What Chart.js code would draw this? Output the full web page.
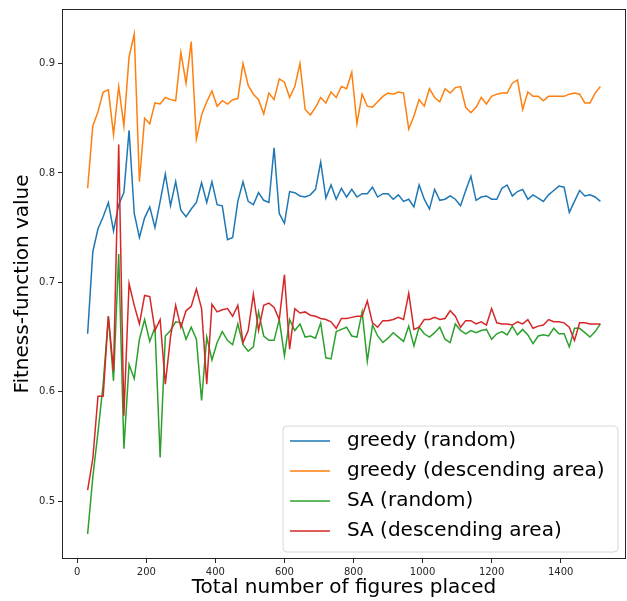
<!DOCTYPE html>
<html>
<head>
<meta charset="utf-8">
<script src="https://cdn.jsdelivr.net/npm/chart.js@4.4.1/dist/chart.umd.min.js"></script>
<style>
  html, body { margin: 0; padding: 0; background: #fff; }
  #wrap { width: 627px; height: 601px; }
</style>
</head>
<body>
<div id="wrap"><canvas id="chart" width="627" height="601"></canvas></div>
<script>
// figures placed (x)
const figuresPlaced = [
  30, 45, 60, 75, 90, 105, 120, 135, 150, 165,
  180, 195, 210, 225, 240, 255, 270, 285, 300, 315,
  330, 345, 360, 375, 390, 405, 420, 435, 450, 465,
  480, 495, 510, 525, 540, 555, 570, 585, 600, 615,
  630, 645, 660, 675, 690, 705, 720, 735, 750, 765,
  780, 795, 810, 825, 840, 855, 870, 885, 900, 915,
  930, 945, 960, 975, 990, 1005, 1020, 1035, 1050, 1065,
  1080, 1095, 1110, 1125, 1140, 1155, 1170, 1185, 1200, 1215,
  1230, 1245, 1260, 1275, 1290, 1305, 1320, 1335, 1350, 1365,
  1380, 1395, 1410, 1425, 1440, 1455, 1470, 1485, 1500, 1515
]

const greedyRandom = [
  0.653, 0.728, 0.749, 0.760, 0.773, 0.747, 0.771, 0.782, 0.839, 0.763,
  0.741, 0.759, 0.769, 0.750, 0.774, 0.799, 0.770, 0.792, 0.766, 0.760,
  0.767, 0.773, 0.791, 0.773, 0.792, 0.771, 0.770, 0.739, 0.741, 0.774,
  0.792, 0.774, 0.771, 0.782, 0.775, 0.773, 0.823, 0.763, 0.754, 0.783,
  0.782, 0.779, 0.778, 0.780, 0.785, 0.810, 0.777, 0.789, 0.776, 0.786,
  0.778, 0.785, 0.778, 0.781, 0.781, 0.787, 0.778, 0.781, 0.781, 0.776,
  0.780, 0.774, 0.776, 0.769, 0.789, 0.776, 0.767, 0.785, 0.775, 0.776,
  0.779, 0.776, 0.770, 0.784, 0.797, 0.775, 0.778, 0.779, 0.776, 0.776,
  0.786, 0.789, 0.779, 0.783, 0.785, 0.776, 0.780, 0.777, 0.774, 0.780,
  0.784, 0.788, 0.787, 0.764, 0.774, 0.784, 0.779, 0.780, 0.778, 0.774
]

const greedyDescending = [
  0.786, 0.843, 0.856, 0.874, 0.876, 0.835, 0.879, 0.843, 0.906, 0.927,
  0.792, 0.850, 0.845, 0.864, 0.863, 0.869, 0.867, 0.866, 0.910, 0.882,
  0.920, 0.831, 0.853, 0.865, 0.875, 0.861, 0.866, 0.863, 0.867, 0.868,
  0.900, 0.880, 0.872, 0.867, 0.854, 0.873, 0.867, 0.886, 0.883, 0.869,
  0.879, 0.900, 0.858, 0.853, 0.860, 0.869, 0.864, 0.874, 0.869, 0.879,
  0.877, 0.892, 0.845, 0.872, 0.861, 0.860, 0.865, 0.870, 0.873, 0.872,
  0.874, 0.873, 0.840, 0.852, 0.867, 0.861, 0.877, 0.869, 0.865, 0.877,
  0.873, 0.878, 0.879, 0.860, 0.855, 0.860, 0.869, 0.863, 0.870, 0.872,
  0.873, 0.873, 0.882, 0.885, 0.858, 0.874, 0.870, 0.870, 0.866, 0.870,
  0.870, 0.870, 0.870, 0.872, 0.873, 0.872, 0.864, 0.864, 0.873, 0.879
]

const saRandom = [
  0.470, 0.522, 0.563, 0.607, 0.669, 0.610, 0.726, 0.548, 0.625, 0.612,
  0.648, 0.666, 0.646, 0.659, 0.540, 0.651, 0.656, 0.664, 0.663, 0.648,
  0.659, 0.648, 0.592, 0.650, 0.629, 0.645, 0.655, 0.647, 0.643, 0.662,
  0.643, 0.637, 0.641, 0.673, 0.651, 0.647, 0.647, 0.666, 0.633, 0.666,
  0.656, 0.662, 0.650, 0.651, 0.649, 0.663, 0.631, 0.630, 0.655, 0.657,
  0.659, 0.651, 0.650, 0.673, 0.628, 0.661, 0.651, 0.645, 0.649, 0.654,
  0.650, 0.646, 0.660, 0.642, 0.659, 0.653, 0.650, 0.654, 0.659, 0.648,
  0.645, 0.662, 0.656, 0.653, 0.656, 0.654, 0.656, 0.657, 0.648, 0.653,
  0.655, 0.652, 0.660, 0.652, 0.657, 0.652, 0.644, 0.651, 0.652, 0.651,
  0.658, 0.653, 0.653, 0.641, 0.658, 0.658, 0.654, 0.650, 0.655, 0.662
]

const saDescending = [
  0.510, 0.539, 0.596, 0.596, 0.669, 0.619, 0.826, 0.578, 0.699, 0.679,
  0.662, 0.688, 0.687, 0.656, 0.666, 0.607, 0.650, 0.679, 0.659, 0.674,
  0.678, 0.694, 0.676, 0.607, 0.680, 0.673, 0.675, 0.676, 0.669, 0.679,
  0.645, 0.656, 0.689, 0.656, 0.679, 0.681, 0.677, 0.666, 0.707, 0.639,
  0.676, 0.672, 0.673, 0.670, 0.669, 0.667, 0.666, 0.664, 0.658, 0.667,
  0.667, 0.668, 0.669, 0.669, 0.683, 0.663, 0.659, 0.665, 0.665, 0.666,
  0.668, 0.666, 0.690, 0.657, 0.659, 0.666, 0.666, 0.668, 0.666, 0.667,
  0.674, 0.669, 0.659, 0.665, 0.665, 0.662, 0.664, 0.661, 0.676, 0.663,
  0.662, 0.662, 0.661, 0.664, 0.662, 0.666, 0.658, 0.660, 0.661, 0.666,
  0.664, 0.664, 0.663, 0.659, 0.647, 0.663, 0.663, 0.662, 0.662, 0.662
]

const seriesLabels = ['greedy (random)', 'greedy (descending area)', 'SA (random)', 'SA (descending area)']
const seriesColors = ['#1f77b4', '#ff7f0e', '#2ca02c', '#d62728']
const xTicks = [0, 200, 400, 600, 800, 1000, 1200, 1400]
const yTicks = [0.5, 0.6, 0.7, 0.8, 0.9]

const FONT = "'DejaVu Sans', sans-serif"

// matplotlib-like 5% margins
const xMinData = Math.min(...figuresPlaced), xMaxData = Math.max(...figuresPlaced)
const allY = [...greedyRandom, ...greedyDescending, ...saRandom, ...saDescending]
const yMinData = Math.min(...allY), yMaxData = Math.max(...allY)
const xPad = (xMaxData - xMinData) * 0.05
const yPad = (yMaxData - yMinData) * 0.05

const toPoints = (ys) => figuresPlaced.map((x, i) => ({ x: x, y: ys[i] }))
const seriesValues = [greedyRandom, greedyDescending, saRandom, saDescending]

const datasets = seriesValues.map((ys, i) => ({
  label: seriesLabels[i],
  data: toPoints(ys),
  borderColor: seriesColors[i],
  backgroundColor: seriesColors[i],
  borderWidth: 1.5,
  pointRadius: 0,
  tension: 0,
  fill: false,
  order: seriesValues.length - i // later series on top
}))

// full box around the plot area
const frame = {
  id: 'frame',
  afterDatasetsDraw(chart) {
    const { ctx, chartArea: a } = chart
    ctx.save()
    ctx.strokeStyle = '#262626'
    ctx.lineWidth = 1
    ctx.strokeRect(a.left + 0.5, a.top + 0.5, a.right - a.left - 1, a.bottom - a.top - 1)
    ctx.restore()
  }
}

// legend drawn inside the axes, lower right
const legendInside = {
  id: 'legendInside',
  afterDraw(chart) {
    const { ctx, chartArea: a } = chart
    const w = 335, h = 126, r = 4
    const x = a.right - w - 8
    const y = a.bottom - h - 7
    ctx.save()
    ctx.beginPath()
    ctx.moveTo(x + r, y)
    ctx.lineTo(x + w - r, y)
    ctx.arcTo(x + w, y, x + w, y + r, r)
    ctx.lineTo(x + w, y + h - r)
    ctx.arcTo(x + w, y + h, x + w - r, y + h, r)
    ctx.lineTo(x + r, y + h)
    ctx.arcTo(x, y + h, x, y + h - r, r)
    ctx.lineTo(x, y + r)
    ctx.arcTo(x, y, x + r, y, r)
    ctx.closePath()
    ctx.fillStyle = 'rgba(255,255,255,0.8)'
    ctx.fill()
    ctx.strokeStyle = '#d6d6d6'
    ctx.lineWidth = 1
    ctx.stroke()

    ctx.font = '20px ' + FONT
    ctx.textBaseline = 'middle'
    ctx.textAlign = 'left'
    seriesLabels.forEach((label, i) => {
      const cy = y + 15 + i * 30
      ctx.strokeStyle = seriesColors[i]
      ctx.lineWidth = 1.5
      ctx.beginPath()
      ctx.moveTo(x + 7, cy)
      ctx.lineTo(x + 47, cy)
      ctx.stroke()
      ctx.fillStyle = '#000'
      ctx.fillText(label, x + 64, cy)
    })
    ctx.restore()
  }
}

new Chart(document.getElementById('chart').getContext('2d'), {
  type: 'line',
  data: { datasets: datasets },
  options: {
    responsive: false,
    animation: false,
    layout: { padding: { top: 8, right: 1, left: 0, bottom: 0 } },
    plugins: {
      legend: { display: false },
      tooltip: { enabled: false }
    },
    scales: {
      x: {
        type: 'linear',
        min: xMinData - xPad,
        max: xMaxData + xPad,
        afterBuildTicks: (scale) => { scale.ticks = xTicks.map(v => ({ value: v })) },
        afterFit: (scale) => { scale.height = 42 },
        grid: { drawOnChartArea: false, tickLength: 4, color: '#262626', tickWidth: 1 },
        border: { display: false },
        ticks: {
          color: '#262626',
          font: { family: FONT, size: 10 },
          padding: 3,
          maxRotation: 0,
          callback: (v) => String(v)
        },
        title: {
          display: true,
          text: 'Total number of figures placed',
          color: '#000',
          font: { family: FONT, size: 20 },
          padding: { top: 0, bottom: 1 }
        }
      },
      y: {
        type: 'linear',
        min: yMinData - yPad,
        max: yMaxData + yPad,
        afterBuildTicks: (scale) => { scale.ticks = yTicks.map(v => ({ value: v })) },
        afterFit: (scale) => { scale.width = 62 },
        grid: { drawOnChartArea: false, tickLength: 4, color: '#262626', tickWidth: 1 },
        border: { display: false },
        ticks: {
          color: '#262626',
          font: { family: FONT, size: 10 },
          padding: 3,
          callback: (v) => v.toFixed(1)
        },
        title: {
          display: true,
          text: 'Fitness-function value',
          color: '#000',
          font: { family: FONT, size: 20 },
          padding: { top: 11, bottom: 0 }
        }
      }
    }
  },
  plugins: [frame, legendInside]
})
</script>
</body>
</html>
